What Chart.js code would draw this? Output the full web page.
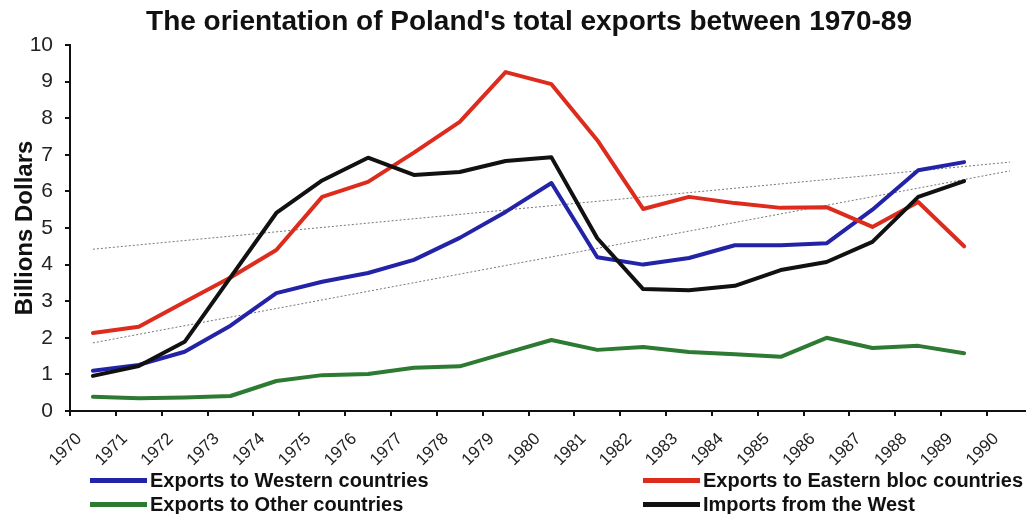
<!DOCTYPE html>
<html>
<head>
<meta charset="utf-8">
<script src="https://cdn.jsdelivr.net/npm/chart.js@4.4.0/dist/chart.umd.min.js"></script>
<style>
html,body{margin:0;padding:0;background:#fff;}
#wrap{position:relative;width:1026px;height:514px;overflow:hidden;}
#legend{position:absolute;left:0;top:0;width:1026px;height:514px;pointer-events:none;
  font-family:"Liberation Sans",Arial,sans-serif;font-weight:bold;font-size:20px;color:#111;}
.item{position:absolute;display:flex;align-items:center;white-space:nowrap;height:24px;line-height:24px;}
.swatch{width:57px;height:5px;margin-right:3px;}
</style>
</head>
<body>
<div id="wrap">
  <canvas id="c" width="1026" height="514"></canvas>
  <div id="legend"></div>
</div>
<script>
const titleText = "The orientation of Poland's total exports between 1970-89";
const yAxisTitle = "Billions Dollars";
const xTickLabels = ["1970","1971","1972","1973","1974","1975","1976","1977","1978","1979","1980",
                     "1981","1982","1983","1984","1985","1986","1987","1988","1989","1990"];
const years = [1970,1971,1972,1973,1974,1975,1976,1977,1978,1979,1980,1981,1982,1983,1984,1985,1986,1987,1988,1989];
const exportsWestern = [1.10,1.26,1.62,2.33,3.22,3.53,3.77,4.13,4.73,5.44,6.23,4.20,4.00,4.18,4.53,4.53,4.58,5.50,6.58,6.80];
const exportsEastern = [2.13,2.30,2.98,3.65,4.40,5.85,6.26,7.06,7.90,9.26,8.93,7.40,5.52,5.85,5.68,5.55,5.57,5.03,5.71,4.50];
const exportsOther   = [0.39,0.35,0.37,0.41,0.82,0.98,1.01,1.18,1.22,1.58,1.94,1.67,1.75,1.61,1.55,1.48,2.00,1.72,1.78,1.58];
const importsWest    = [0.96,1.23,1.89,3.65,5.41,6.30,6.92,6.45,6.53,6.83,6.93,4.72,3.33,3.30,3.42,3.85,4.07,4.62,5.85,6.28];
// dotted trend lines: value at start and end of the trend (first year .. one year past the last)
const trendYears = [1970, 1990];
const trendEastern = [4.42, 6.80];
const trendWestern = [1.86, 6.56];

const FONT = '"Liberation Sans", Arial, sans-serif';
const firstYear = 1970;
// points sit in the middle of each year interval
const toPoints = (vals, yrs) => vals.map((v, i) => ({ x: yrs[i] - firstYear + 0.5, y: v }));

const series = [
  { label: 'Exports to Western countries', data: exportsWestern, color: '#2323a8', order: 2 },
  { label: 'Exports to Eastern bloc countries', data: exportsEastern, color: '#dd2c1e', order: 1 },
  { label: 'Exports to Other countries', data: exportsOther, color: '#2d7a32', order: 3 },
  { label: 'Imports from the West', data: importsWest, color: '#111111', order: 0 }
];

const datasets = series.map(s => ({
  label: s.label,
  data: toPoints(s.data, years),
  borderColor: s.color,
  backgroundColor: s.color,
  borderWidth: 4,
  pointRadius: 0,
  tension: 0,
  order: s.order,
  borderJoinStyle: 'round',
  borderCapStyle: 'round'
}));
[trendEastern, trendWestern].forEach((t, k) => {
  datasets.push({
    label: k === 0 ? 'Trend (Eastern bloc)' : 'Trend (Western)',
    data: toPoints(t, trendYears),
    borderColor: '#777777',
    borderWidth: 1,
    borderDash: [2, 2],
    pointRadius: 0,
    tension: 0,
    order: 5,
    isTrend: true
  });
});

const titlePlugin = {
  id: 'customTitle',
  afterDraw(chart) {
    const ctx = chart.ctx;
    ctx.save();
    ctx.font = 'bold 28px ' + FONT;
    ctx.fillStyle = '#111';
    ctx.textAlign = 'center';
    ctx.textBaseline = 'middle';
    ctx.fillText(titleText, 529, 22);
    ctx.restore();
  }
};

const chart = new Chart(document.getElementById('c'), {
  type: 'line',
  data: { datasets },
  plugins: [titlePlugin],
  options: {
    responsive: false,
    animation: false,
    layout: { padding: { top: 45, left: 0, right: 0, bottom: 0 } },
    plugins: { legend: { display: false }, tooltip: { enabled: false }, title: { display: false } },
    scales: {
      x: {
        type: 'linear',
        min: 0,
        max: 20.85,
        afterBuildTicks: s => { s.ticks = xTickLabels.map((_, i) => ({ value: i })); },
        afterFit: s => { s.height = 103; },
        border: { display: true, color: '#111', width: 2 },
        grid: { display: true, drawOnChartArea: false, drawTicks: true, tickLength: 5, color: '#111', lineWidth: 2 },
        ticks: {
          autoSkip: false, minRotation: 45, maxRotation: 45, labelOffset: 9, padding: 13,
          color: '#222', font: { family: FONT, size: 17 },
          callback: v => xTickLabels[v] ?? ''
        }
      },
      y: {
        min: 0,
        max: 10,
        afterFit: s => { s.width = 70; },
        border: { display: true, color: '#111', width: 2 },
        grid: { display: true, drawOnChartArea: false, drawTicks: true, tickLength: 5, color: '#111', lineWidth: 2 },
        ticks: { stepSize: 1, padding: 12, color: '#222', font: { family: FONT, size: 21 } },
        title: { display: true, text: yAxisTitle, color: '#111', font: { family: FONT, size: 24, weight: 'bold' }, padding: { top: 11, bottom: 0 } }
      }
    }
  }
});

// HTML legend built from the chart's datasets (two columns, two rows)
const slotPos = [ {left: 90, top: 468}, {left: 643, top: 468}, {left: 90, top: 492}, {left: 643, top: 492} ];
const legend = document.getElementById('legend');
chart.data.datasets.filter(d => !d.isTrend).forEach((d, i) => {
  const item = document.createElement('div');
  item.className = 'item';
  item.style.left = slotPos[i].left + 'px';
  item.style.top = slotPos[i].top + 'px';
  const sw = document.createElement('span');
  sw.className = 'swatch';
  sw.style.background = d.borderColor;
  const tx = document.createElement('span');
  tx.textContent = d.label;
  item.appendChild(sw);
  item.appendChild(tx);
  legend.appendChild(item);
});
</script>
</body>
</html>
